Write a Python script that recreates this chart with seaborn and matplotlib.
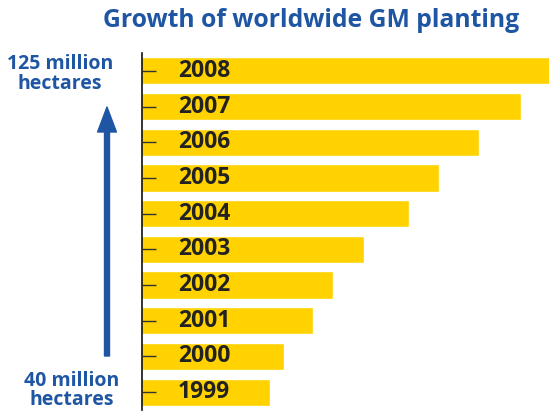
import matplotlib
matplotlib.use("Agg")
import matplotlib.pyplot as plt
import seaborn as sns
import pandas as pd

# million hectares of GM crops planted worldwide (ISAAA figures)
years = ["2008", "2007", "2006", "2005", "2004", "2003", "2002", "2001", "2000", "1999"]
hectares = [125.0, 114.3, 102.0, 90.0, 81.0, 67.7, 58.7, 52.6, 44.2, 39.9]
top_label = "125 million\nhectares"
bottom_label = "40 million\nhectares"
title = "Growth of worldwide GM planting"

BLUE = "#1F56A3"
YELLOW = "#FFD200"
DARK = "#222222"

sns.set_style("white")
plt.rcParams["font.family"] = ["Open Sans", "DejaVu Sans"]

df = pd.DataFrame({"year": years, "hectares": hectares})

fig = plt.figure(figsize=(5.49, 4.12), dpi=100)
ax = fig.add_axes([142 / 549, 2 / 412, 407 / 549, 357 / 412])

sns.barplot(data=df, x="hectares", y="year", order=years, orient="h",
            color=YELLOW, saturation=1, width=0.76, ax=ax)

ax.set_xlim(2, 122.6)
ax.set_ylim(9.5, -0.5)
ax.set_xlabel("")
ax.set_ylabel("")
ax.set_xticks([])
ax.set_yticklabels([])
ax.set_axisbelow(False)
ax.tick_params(axis="y", direction="in", length=10, width=1, color="#333333", left=True)
for side in ["top", "right", "bottom"]:
    ax.spines[side].set_visible(False)
ax.spines["left"].set_color("#111111")
ax.spines["left"].set_linewidth(1.2)

# year labels sit inside the bars
for i, yr in enumerate(years):
    ax.text(0.152, i, yr, transform=ax.get_yaxis_transform(), ha="center", va="center",
            fontsize=16.5, fontweight="bold", color=DARK)

fig.text(0.567, 0.951, title, ha="center", va="center", fontsize=17.8,
         fontweight="bold", color=BLUE)
fig.text(0.109, 0.82, top_label, ha="center", va="center", fontsize=14,
         fontweight="bold", color=BLUE, linespacing=1.0)
fig.text(0.131, 0.052, bottom_label, ha="center", va="center", fontsize=14,
         fontweight="bold", color=BLUE, linespacing=0.95)

ax.annotate("", xy=(107, 305), xytext=(107, 56), xycoords="figure pixels",
            textcoords="figure pixels",
            arrowprops=dict(arrowstyle="simple,head_length=0.9,head_width=0.68,tail_width=0.18",
                            mutation_scale=20, color=BLUE, shrinkA=0, shrinkB=0))

fig.savefig("out.png", dpi=100)
